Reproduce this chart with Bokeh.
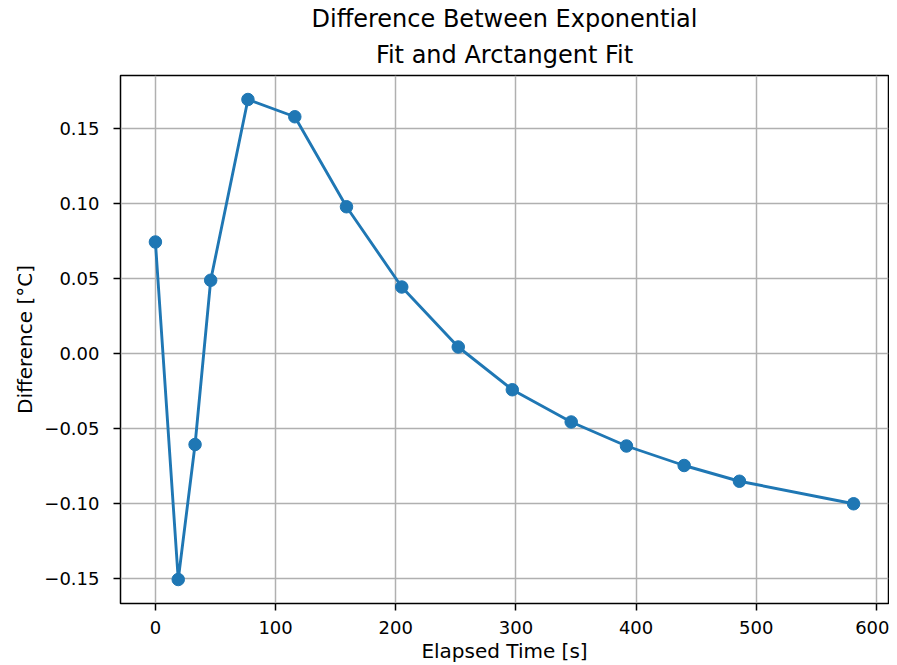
from bokeh.plotting import figure
from bokeh.models import FixedTicker, CustomJSTickFormatter, Range1d, Title
from bokeh.embed import file_html
from bokeh.resources import INLINE

# Data
elapsed_time = [0, 19, 33, 46, 77, 116, 159, 205, 252, 297, 346, 392, 440, 486, 581]
difference = [0.0745, -0.1505, -0.0605, 0.0490, 0.1695, 0.1580, 0.0980, 0.0445,
              0.0045, -0.0240, -0.0455, -0.0615, -0.0745, -0.0850, -0.1000]
x_ticks = [0, 100, 200, 300, 400, 500, 600]
y_ticks = [-0.15, -0.10, -0.05, 0.00, 0.05, 0.10, 0.15]
title_lines = ["Difference Between Exponential", "Fit and Arctangent Fit"]
x_label = "Elapsed Time [s]"
y_label = "Difference [°C]"

BLUE = "#1f77b4"
FONT = "DejaVu Sans"

xmin, xmax = min(elapsed_time), max(elapsed_time)
ymin, ymax = min(difference), max(difference)
xm = 0.05 * (xmax - xmin)
ym = 0.05 * (ymax - ymin)

p = figure(width=889, height=665, output_backend="svg", toolbar_location=None,
           x_range=Range1d(xmin - xm, xmax + xm), y_range=Range1d(ymin - ym, ymax + ym),
           min_border_left=120, min_border_right=1, min_border_top=75, min_border_bottom=61,
           background_fill_color="white", border_fill_color="white")
p.title.text = ""
p.title.visible = False

# Title lines (later added goes farther from the plot)
p.add_layout(Title(text=title_lines[1], align="center", text_font=FONT, text_font_size="24px",
                   text_font_style="normal", text_color="black", standoff=13), "above")
p.add_layout(Title(text=title_lines[0], align="center", text_font=FONT, text_font_size="24px",
                   text_font_style="normal", text_color="black", standoff=0), "above")

p.line(elapsed_time, difference, line_color=BLUE, line_width=2.9)
p.scatter(elapsed_time, difference, size=12.5, fill_color=BLUE, line_color=BLUE)

p.outline_line_color = "black"
p.outline_line_width = 1.5
p.outline_line_alpha = 1.0

for ax in (p.xaxis[0], p.yaxis[0]):
    ax.axis_line_color = None
    ax.major_tick_in = 0
    ax.major_tick_out = 7
    ax.major_tick_line_width = 1.5
    ax.major_tick_line_color = "black"
    ax.minor_tick_line_color = None
    ax.major_label_text_font = FONT
    ax.major_label_text_font_size = "18px"
    ax.major_label_text_color = "black"
    ax.major_label_text_line_height = 1.0
    ax.axis_label_text_font = FONT
    ax.axis_label_text_font_size = "20px"
    ax.axis_label_text_font_style = "normal"
    ax.axis_label_text_color = "black"
    ax.axis_label_text_line_height = 0.9

p.xaxis.ticker = FixedTicker(ticks=x_ticks)
p.yaxis.ticker = FixedTicker(ticks=y_ticks)
p.xaxis.axis_label = x_label
p.yaxis.axis_label = y_label
p.xaxis.major_label_standoff = 10
p.yaxis.major_label_standoff = 14
p.xaxis.axis_label_standoff = 2
p.yaxis.axis_label_standoff = 4

p.xaxis.formatter = CustomJSTickFormatter(code="return Math.round(tick).toString();")
p.yaxis.formatter = CustomJSTickFormatter(code="""
    if (Math.abs(tick) < 1e-9) { return '0.00'; }
    return (tick < 0 ? '\\u2212' : '') + Math.abs(tick).toFixed(2);
""")

p.xgrid.grid_line_color = "#b0b0b0"
p.ygrid.grid_line_color = "#b0b0b0"
p.xgrid.grid_line_width = 1.5
p.ygrid.grid_line_width = 1.5

open("out.html", "w").write(file_html(p, INLINE))
